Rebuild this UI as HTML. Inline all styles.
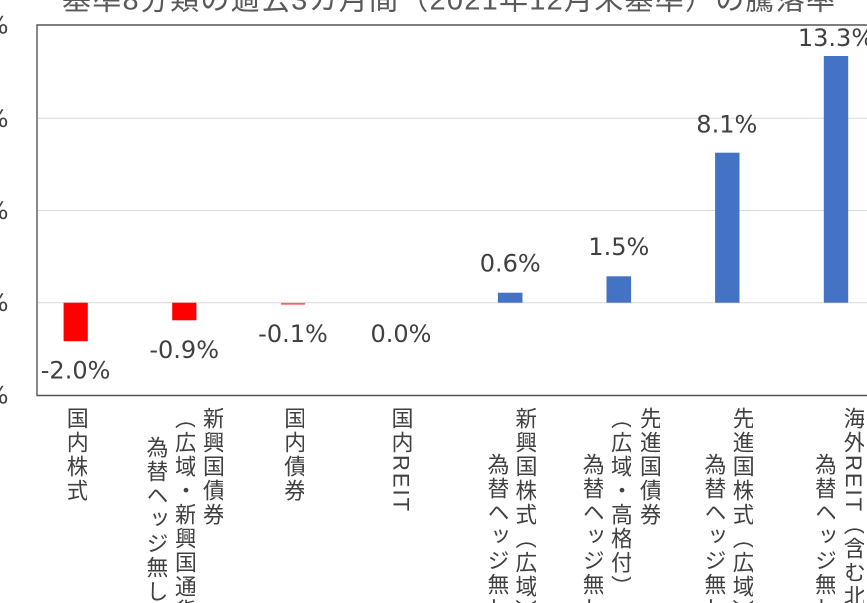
<!DOCTYPE html>
<html><head><meta charset="utf-8">
<style>
html{margin:0;padding:0;width:867px;height:603px;overflow:hidden;background:#fff;}
body{margin:0;padding:0;background:#fff;width:867px;height:603px;overflow:hidden;position:relative;}
.v{position:absolute;writing-mode:vertical-rl;text-orientation:mixed;font-family:"Liberation Sans","Noto Sans CJK JP",sans-serif;font-size:22px;line-height:22px;width:22px;letter-spacing:2px;color:#404040;white-space:nowrap;overflow:hidden;}
.t1{top:407px;height:196px;}
.t2{top:453px;height:150px;}
.t3{top:436px;height:167px;}
</style></head>
<body>
<svg width="867" height="603" style="position:absolute;left:0;top:0" xmlns="http://www.w3.org/2000/svg">
  <text x="62" y="9.5" textLength="773" lengthAdjust="spacing" font-family="Liberation Sans, Noto Sans CJK JP, sans-serif" font-size="29" fill="#595959">基準8分類の過去3カ月間（2021年12月末基準）の騰落率</text>
  <g stroke="#d9d9d9" stroke-width="1">
    <line x1="38" y1="118.3" x2="867" y2="118.3"/>
    <line x1="38" y1="210.5" x2="867" y2="210.5"/>
    <line x1="38" y1="302.7" x2="867" y2="302.7"/>
  </g>
  <g font-family="DejaVu Sans, sans-serif" font-size="24" fill="#404040" text-anchor="end">
    <text x="8.5" y="33.5">15%</text>
    <text x="8.5" y="126.8">10%</text>
    <text x="8.5" y="219">5%</text>
    <text x="8.5" y="311.2">0%</text>
    <text x="8.5" y="403.5">-5%</text>
  </g>
  <g fill="#ff0000">
    <rect x="63.6" y="302.7" width="24.2" height="38.5"/>
    <rect x="172.2" y="302.7" width="24.2" height="17.6"/>
    <rect x="280.9" y="302.9" width="24.2" height="1.8" fill="#ff6060"/>
  </g>
  <g fill="#4472c4">
    <rect x="497.9" y="292.7" width="24.6" height="10"/>
    <rect x="606.5" y="276.3" width="24.6" height="26.4"/>
    <rect x="715.1" y="152.7" width="24.4" height="150"/>
    <rect x="823.8" y="56" width="24.4" height="246.7"/>
  </g>
  <g stroke="#555" stroke-width="1.4" fill="none">
    <polyline points="867,25 37,25 37,395.5 867,395.5"/>
  </g>
  <g font-family="DejaVu Sans, sans-serif" font-size="24" fill="#404040" text-anchor="middle">
    <text x="75.6" y="378.3">-2.0%</text>
    <text x="184.2" y="358">-0.9%</text>
    <text x="293" y="342">-0.1%</text>
    <text x="401" y="342">0.0%</text>
    <text x="510.2" y="271.7">0.6%</text>
    <text x="618.8" y="255">1.5%</text>
    <text x="726.8" y="132.3">8.1%</text>
    <text x="836" y="46">13.3%</text>
  </g>
</svg>

<div class="v t1" style="left:64.7px;">国内株式</div>

<div class="v t1" style="left:201px;">新興国債券</div>
<div class="v t1" style="left:173px;">（広域・新興国通貨建）</div>
<div class="v t3" style="left:144.5px;">為替ヘッジ無し</div>

<div class="v t1" style="left:282.2px;">国内債券</div>

<div class="v t1" style="left:389.5px;">国内REIT</div>

<div class="v t1" style="left:513.5px;">新興国株式（広域）</div>
<div class="v t2" style="left:485.5px;">為替ヘッジ無し</div>

<div class="v t1" style="left:638px;">先進国債券</div>
<div class="v t1" style="left:609px;">（広域・高格付）</div>
<div class="v t2" style="left:580.8px;">為替ヘッジ無し</div>

<div class="v t1" style="left:730.8px;">先進国株式（広域）</div>
<div class="v t2" style="left:702.5px;">為替ヘッジ無し</div>

<div class="v t1" style="left:841.8px;">海外REIT（含む北米）</div>
<div class="v t2" style="left:813px;">為替ヘッジ無し</div>
</body></html>
